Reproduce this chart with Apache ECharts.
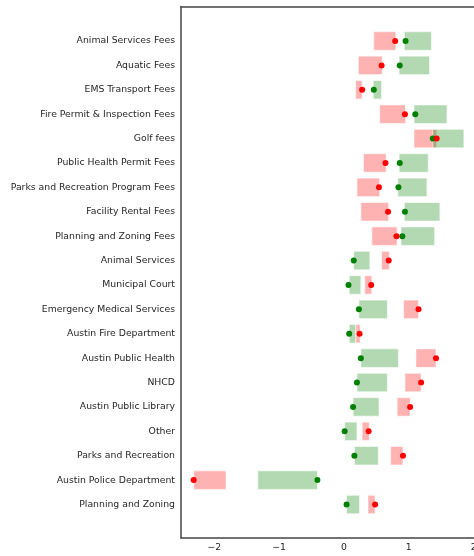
<!DOCTYPE html>
<html>
<head>
<meta charset="utf-8">
<script src="https://cdn.jsdelivr.net/npm/echarts@6/dist/echarts.min.js"></script>
<style>
  html, body { margin: 0; padding: 0; background: #fff; }
  #chart { width: 474px; height: 556px; }
</style>
</head>
<body>
<div id="chart"></div>
<script>
// rows top to bottom
const categories = [
  "Animal Services Fees", "Aquatic Fees", "EMS Transport Fees",
  "Fire Permit & Inspection Fees", "Golf fees", "Public Health Permit Fees",
  "Parks and Recreation Program Fees", "Facility Rental Fees",
  "Planning and Zoning Fees", "Animal Services", "Municipal Court",
  "Emergency Medical Services", "Austin Fire Department", "Austin Public Health",
  "NHCD", "Austin Public Library", "Other", "Parks and Recreation",
  "Austin Police Department", "Planning and Zoning"
];

// red bars (start, end) and red dots
const redStart = [0.46, 0.22, 0.18, 0.55, 1.08, 0.30, 0.20, 0.26, 0.43, 0.58,
                  0.32, 0.92, 0.18, 1.11, 0.94, 0.82, 0.28, 0.72, -2.32, 0.37];
const redEnd   = [0.80, 0.59, 0.28, 0.95, 1.43, 0.65, 0.55, 0.69, 0.82, 0.70,
                  0.43, 1.15, 0.25, 1.42, 1.19, 1.02, 0.39, 0.91, -1.82, 0.48];
const redDot   = [0.79, 0.58, 0.28, 0.94, 1.43, 0.64, 0.54, 0.68, 0.81, 0.69,
                  0.42, 1.15, 0.24, 1.42, 1.19, 1.02, 0.38, 0.91, -2.32, 0.48];

// green bars (start, end) and green dots
const greenStart = [0.93, 0.85, 0.45, 1.08, 1.37, 0.85, 0.83, 0.93, 0.88, 0.15,
                    0.08, 0.23, 0.08, 0.26, 0.20, 0.14, 0.01, 0.16, -1.33, 0.04];
const greenEnd   = [1.35, 1.32, 0.58, 1.59, 1.85, 1.30, 1.28, 1.48, 1.40, 0.40,
                    0.26, 0.67, 0.18, 0.84, 0.67, 0.54, 0.20, 0.53, -0.41, 0.24];
const greenDot   = [0.95, 0.86, 0.46, 1.10, 1.37, 0.86, 0.84, 0.94, 0.90, 0.15,
                    0.07, 0.23, 0.08, 0.26, 0.20, 0.14, 0.01, 0.16, -0.41, 0.04];

const xTicks = [-2, -1, 0, 1, 2];
const rowIdx = categories.map((c, i) => i);

const BAR_H = 0.76;
const FONT = "DejaVu Sans";
const SPINE = "#444";

function bars(start, end) {
  return start.map((s, i) => [i, s, end[i]]);
}

function renderBar(fill) {
  return function (params, api) {
    const y = api.value(0);
    const p0 = api.coord([api.value(1), y]);
    const p1 = api.coord([api.value(2), y]);
    const h = Math.abs(api.size([0, BAR_H])[1]);
    return {
      type: "rect",
      shape: { x: p0[0], y: p0[1] - h / 2, width: p1[0] - p0[0], height: h },
      style: { fill: fill, stroke: "rgba(255,255,255,0.6)", lineWidth: 1 }
    };
  };
}

const chart = echarts.init(document.getElementById("chart"), null, { renderer: "canvas" });

chart.setOption({
  animation: false,
  backgroundColor: "#fff",
  grid: { left: 181, right: 0, top: 6.5, bottom: 18, containLabel: false, outerBoundsMode: "none" },
  xAxis: [
    {
      type: "value",
      min: -2.515,
      max: 2.006,
      position: "bottom",
      splitLine: { show: false },
      axisTick: { show: false },
      axisLine: { show: true, onZero: false, lineStyle: { color: SPINE, width: 1.5 } },
      axisLabel: {
        customValues: xTicks,
        margin: 5,
        fontFamily: FONT,
        fontSize: 9.3,
        color: "#262626",
        formatter: v => String(v).replace("-", "\u2212")
      }
    },
    {
      type: "value",
      min: -2.515,
      max: 2.006,
      position: "top",
      splitLine: { show: false },
      axisTick: { show: false },
      axisLabel: { show: false },
      axisLine: { show: true, onZero: false, lineStyle: { color: SPINE, width: 1.5 } }
    }
  ],
  yAxis: {
    type: "value",
    inverse: true,
    min: -1.414,
    max: 20.373,
    splitLine: { show: false },
    axisTick: { show: false },
    axisLine: { show: true, onZero: false, lineStyle: { color: SPINE, width: 1.5 } },
    axisLabel: {
      customValues: rowIdx,
      margin: 6,
      fontFamily: FONT,
      fontSize: 9.3,
      color: "#262626",
      formatter: v => categories[Math.round(v)]
    }
  },
  series: [
    {
      type: "custom",
      renderItem: renderBar("rgba(255,0,0,0.3)"),
      encode: { x: [1, 2], y: 0 },
      data: bars(redStart, redEnd),
      z: 1
    },
    {
      type: "custom",
      renderItem: renderBar("rgba(0,128,0,0.3)"),
      encode: { x: [1, 2], y: 0 },
      data: bars(greenStart, greenEnd),
      z: 1
    },
    {
      type: "scatter",
      symbolSize: 6,
      itemStyle: { color: "#008000", opacity: 1 },
      data: greenDot.map((v, i) => [v, i]),
      z: 3
    },
    {
      type: "scatter",
      symbolSize: 6,
      itemStyle: { color: "#ff0000", opacity: 1 },
      data: redDot.map((v, i) => [v, i]),
      z: 4
    }
  ]
});
</script>
</body>
</html>
